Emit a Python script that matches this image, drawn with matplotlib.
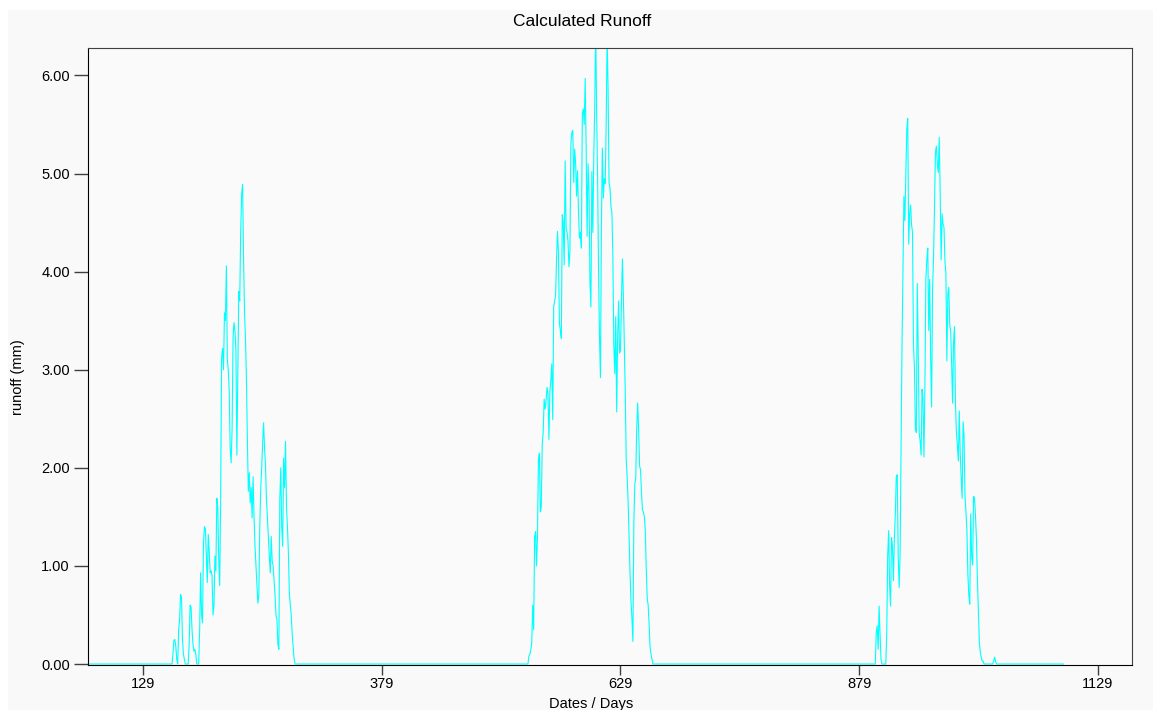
import numpy as np
import matplotlib
matplotlib.use('Agg')
import matplotlib.pyplot as plt
from matplotlib.patches import Rectangle

plt.rcParams['font.family'] = ['Liberation Sans', 'DejaVu Sans']

# simulated daily runoff, zero outside the three melt events
first_day = 72
last_day = 1093

event1_start = 159
event1 = [0, 0.1, 0.24, 0.25, 0.18, 0.05, 0, 0.35, 0.45, 0.71,
          0.68, 0.25, 0.1, 0.05, 0, 0, 0, 0, 0.2, 0.6,
          0.58, 0.35, 0.2, 0.13, 0.15, 0.1, 0, 0, 0, 0.35,
          0.93, 0.5, 0.42, 1.23, 1.4, 1.38, 1.1, 0.83, 1.32, 1.15,
          0.93, 0.95, 0.9, 0.5, 0.6, 1.1, 0.95, 1.69, 1.6, 1.07,
          0.8, 1.7, 3.12, 3.22, 3.0, 3.58, 3.5, 4.06, 3.1, 3.0,
          2.78, 2.2, 2.05, 2.4, 3.32, 3.48, 3.4, 3.2, 2.13, 3.0,
          3.8, 3.7, 4.4, 4.79, 4.89, 4.14, 3.6, 3.32, 2.92, 2.29,
          1.76, 1.95, 1.64, 1.8, 1.49, 1.91, 1.5, 1.2, 1.0, 0.8,
          0.62, 0.7, 1.4, 1.78, 2.0, 2.25, 2.46, 2.2, 2.03, 1.68,
          1.5, 1.3, 1.1, 0.93, 1.3, 1.05, 1.0, 0.85, 0.7, 0.5,
          0.45, 0.2, 0.15, 1.68, 2.0, 1.4, 1.2, 2.1, 1.8, 2.27,
          1.6, 1.4, 1.13, 0.72, 0.6, 0.49, 0.3, 0.18, 0.05, 0]

event2_start = 532
event2 = [0, 0.08, 0.1, 0.14, 0.21, 0.6, 0.35, 1.3, 1.35, 1.0,
          1.3, 2.08, 2.15, 1.55, 1.6, 2.24, 2.37, 2.7, 2.6, 2.68,
          2.82, 2.75, 2.29, 2.78, 2.89, 3.06, 2.49, 3.64, 3.7, 3.76,
          4.14, 4.41, 4.19, 3.47, 3.4, 3.32, 4.58, 4.5, 4.07, 5.13,
          4.45, 4.4, 4.31, 4.05, 4.2, 5.3, 5.42, 5.44, 4.91, 5.25,
          5.1, 4.77, 5.03, 4.6, 4.34, 4.4, 4.24, 5.61, 5.66, 5.5,
          5.97, 5.28, 4.36, 5.1, 4.81, 3.9, 3.64, 5.02, 4.4, 5.18,
          5.67, 6.5, 5.61, 4.95, 4.01, 3.33, 2.92, 4.46, 5.26, 4.75,
          4.95, 4.9, 5.51, 6.4, 5.86, 4.91, 4.85, 4.67, 4.6, 4.15,
          3.25, 2.96, 3.54, 2.57, 3.31, 3.7, 3.17, 3.2, 3.7, 4.13,
          3.76, 3.23, 2.76, 2.08, 1.9, 1.65, 1.28, 0.93, 0.64, 0.46,
          0.23, 1.44, 1.83, 1.9, 2.41, 2.66, 2.39, 2.02, 1.98, 1.75,
          1.57, 1.55, 1.5, 1.36, 0.97, 0.67, 0.6, 0.4, 0.17, 0.1,
          0.05, 0]

event3_start = 897
event3 = [0.32, 0.39, 0.15, 0.59, 0.3, 0.05, 0, 0, 0, 0,
          0, 0.32, 1.1, 1.36, 0.8, 0.59, 1.29, 1.2, 0.85, 1.29,
          1.53, 1.91, 1.93, 1.1, 0.78, 1.12, 2.16, 3.26, 3.99, 4.77,
          4.52, 4.97, 5.45, 5.56, 4.28, 4.59, 4.68, 4.48, 4.4, 3.26,
          3.02, 2.4, 2.36, 3.88, 3.19, 2.36, 2.27, 2.13, 2.8, 2.7,
          2.11, 2.84, 3.92, 4.12, 4.24, 3.4, 3.92, 3.13, 2.62, 3.82,
          4.13, 4.63, 5.21, 5.28, 5.1, 5.01, 5.37, 4.8, 4.12, 4.59,
          4.48, 4.45, 4.1, 3.99, 3.09, 3.77, 3.84, 3.46, 3.39, 3.06,
          2.66, 3.28, 3.44, 2.66, 2.36, 2.24, 2.07, 2.58, 2.15, 1.89,
          1.69, 2.47, 2.33, 1.71, 1.55, 1.36, 0.92, 0.7, 0.61, 1.53,
          1.09, 1.01, 1.71, 1.69, 1.51, 1.27, 0.87, 0.54, 0.23, 0.12,
          0.07, 0.03, 0.03, 0, 0, 0, 0, 0, 0, 0,
          0, 0, 0, 0.03, 0.07, 0.03, 0]

x_ticks = [129, 379, 629, 879, 1129]
y_ticks = [0, 1, 2, 3, 4, 5, 6]

days = np.arange(first_day, last_day + 1)
runoff = np.zeros(len(days))
for start, values in [(event1_start, event1), (event2_start, event2), (event3_start, event3)]:
    i = start - first_day
    runoff[i:i + len(values)] = values

W, H = 1153, 710
fig = plt.figure(figsize=(W / 100, H / 100), dpi=100)
fig.patches.append(Rectangle((8 / W, 0), 1, 1 - 10 / H, transform=fig.transFigure,
                             facecolor='#f9f9f9', edgecolor='none', zorder=-1))

ax = fig.add_axes([88 / W, 1 - 665 / H, (1132 - 88) / W, (665 - 48) / H])
ax.set_facecolor('#fafafa')
ax.plot(days, runoff, color='#00ffff', lw=0.8)

ax.set_xlim(71, 1165)
ax.set_ylim(-0.01, 6.28)
ax.set_xticks(x_ticks)
ax.set_yticks(y_ticks)
ax.set_yticklabels(['{:.2f}'.format(v) for v in y_ticks])
ax.tick_params(axis='y', length=10, width=1, color='#404040', pad=3, labelsize=10.5)
ax.tick_params(axis='x', length=7, width=1, color='#404040', pad=2, labelsize=10.5)

for side in ['left', 'bottom']:
    ax.spines[side].set_color('black')
for side in ['top', 'right']:
    ax.spines[side].set_color('#404040')

fig.text(582 / W, 1 - 21 / H, 'Calculated Runoff', ha='center', va='center', fontsize=12.5)
fig.text(591 / W, 1 - 704 / H, 'Dates / Days', ha='center', va='center', fontsize=10.5)
fig.text(18 / W, 1 - 377 / H, 'runoff (mm)', ha='center', va='center', rotation=90, fontsize=10.5)

fig.savefig('out.png', dpi=100)
